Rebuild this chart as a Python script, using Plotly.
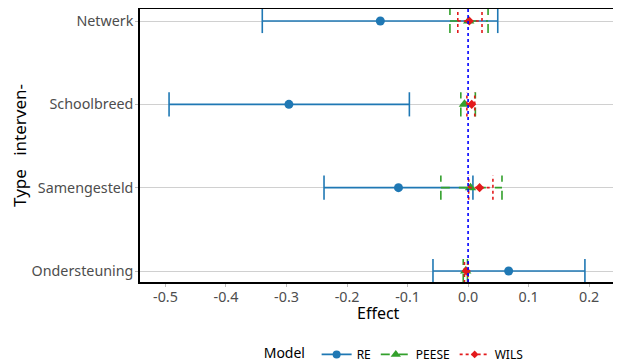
import plotly.graph_objects as go

categories = ["Ondersteuning", "Samengesteld", "Schoolbreed", "Netwerk"]
models = ["RE", "PEESE", "WILS"]

re_est = [0.067, -0.115, -0.296, -0.145]
re_lo = [-0.058, -0.238, -0.494, -0.340]
re_hi = [0.193, 0.008, -0.097, 0.049]

peese_est = [-0.004, 0.004, -0.006, 0.001]
peese_lo = [-0.008, -0.045, -0.012, -0.030]
peese_hi = [-0.001, 0.056, 0.012, 0.033]

wils_est = [-0.003, 0.019, 0.006, 0.002]
wils_lo = [-0.006, 0.001, -0.002, -0.017]
wils_hi = [0.000, 0.041, 0.011, 0.023]

colors = {"RE": "#1f78b4", "PEESE": "#33a02c", "WILS": "#e31a1c"}
dashes = {"RE": "solid", "PEESE": "dash", "WILS": "dot"}
symbols = {"RE": "circle", "PEESE": "triangle-up", "WILS": "diamond"}
msizes = {"RE": 9, "PEESE": 10, "WILS": 7}
series = {
    "RE": (re_est, re_lo, re_hi),
    "PEESE": (peese_est, peese_lo, peese_hi),
    "WILS": (wils_est, wils_lo, wils_hi),
}

CAP = 0.145  # half height of caps, in category units

fig = go.Figure()
for m in models:
    est, lo, hi = series[m]
    xs, ys = [], []
    for i in range(len(categories)):
        xs += [lo[i], hi[i], None, lo[i], lo[i], None, hi[i], hi[i], None]
        ys += [i, i, None, i - CAP, i + CAP, None, i - CAP, i + CAP, None]
    fig.add_trace(go.Scatter(x=xs, y=ys, mode="lines", showlegend=False,
                             line=dict(color=colors[m], width=1.6, dash=dashes[m]),
                             hoverinfo="skip"))
    fig.add_trace(go.Scatter(x=est, y=list(range(len(categories))), mode="markers",
                             showlegend=False,
                             marker=dict(color=colors[m], symbol=symbols[m], size=msizes[m])))
for m in models:
    fig.add_trace(go.Scatter(x=[None], y=[None], mode="lines+markers", name=m,
                             line=dict(color=colors[m], width=1.6, dash=dashes[m]),
                             marker=dict(color=colors[m], symbol=symbols[m], size=msizes[m] - 1)))

fig.add_vline(x=0, line=dict(color="#0000ff", width=1.6, dash="dot"))

fig.add_annotation(text="Effect", xref="paper", yref="paper", x=0.5, y=-0.114,
                   xanchor="center", yanchor="middle", showarrow=False,
                   font=dict(size=16, color="black"))

fig.update_layout(
    width=613, height=355,
    margin=dict(l=132, r=4, t=1, b=81, autoexpand=False),
    paper_bgcolor="white", plot_bgcolor="white",
    font=dict(family="Noto Sans", size=14, color="#1a1a1a"),
    xaxis=dict(range=[-0.542, 0.246], tickvals=[-0.5, -0.4, -0.3, -0.2, -0.1, 0.0, 0.1, 0.2],
               ticktext=["-0.5", "-0.4", "-0.3", "-0.2", "-0.1", "0.0", "0.1", "0.2"],
               showgrid=False, zeroline=False, showline=True, mirror=True,
               linecolor="black", linewidth=1.5, ticks="outside", ticklen=3, tickcolor="#bbbbbb",
               tickfont=dict(size=14.3, color="#4d4d4d"), automargin=False,
               ticklabelstandoff=-2),
    yaxis=dict(range=[-0.132, 3.144], tickvals=list(range(len(categories))), ticktext=categories,
               showgrid=True, gridcolor="#d0d0d0", gridwidth=1, zeroline=False,
               showline=True, mirror=True, linecolor="black", linewidth=1.5,
               ticks="outside", ticklen=3, tickcolor="#bbbbbb",
               tickfont=dict(size=14.3, color="#4d4d4d"), automargin=False,
               ticklabelstandoff=-1,
               title=dict(text="Type   interven-", standoff=6, font=dict(size=17, color="black"))),
    legend=dict(orientation="h", x=0.535, xanchor="center", y=-0.212, yanchor="top",
                title=dict(text="Model ", font=dict(size=14, color="black")),
                font=dict(size=12, color="black"), itemwidth=30, tracegroupgap=0),
)

fig.write_html("out.html")
